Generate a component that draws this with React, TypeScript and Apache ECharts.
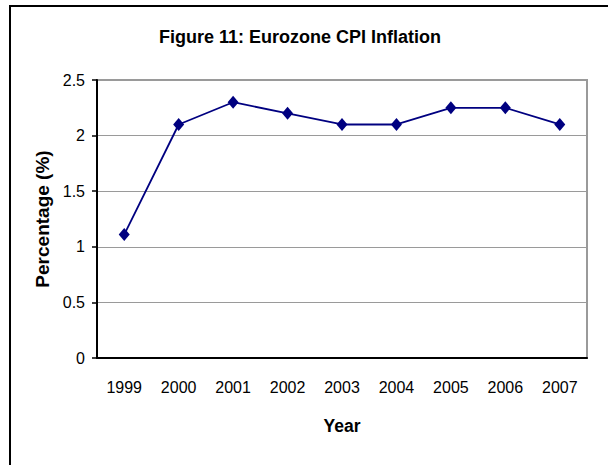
import React, { useEffect, useRef } from "react";
import * as echarts from "echarts";

const titleText = "Figure 11: Eurozone CPI Inflation";
const years = ["1999", "2000", "2001", "2002", "2003", "2004", "2005", "2006", "2007"];
const cpi = [1.11, 2.1, 2.3, 2.2, 2.1, 2.1, 2.25, 2.25, 2.1];
const yName = "Percentage (%)";
const xName = "Year";

const FONT = "'Liberation Sans', Arial, sans-serif";

export default function App() {
  const ref = useRef<HTMLDivElement>(null);
  useEffect(() => {
    if (!ref.current) return;
    const chart = echarts.init(ref.current, undefined, { renderer: "svg" });
    chart.setOption({
      animation: false,
      backgroundColor: "#ffffff",
      textStyle: { fontFamily: FONT },
      title: {
        text: titleText,
        left: 295,
        top: 23,
        textAlign: "center",
        textStyle: { fontFamily: FONT, fontSize: 18, fontWeight: "bold", color: "#000" },
      },
      graphic: [
        {
          type: "rect",
          shape: { x: 10, y: 6, width: 700, height: 600 },
          style: { fill: "none", stroke: "#000", lineWidth: 2 },
          z: 10,
        },
      ],
      grid: {
        left: 97,
        right: 21,
        top: 80,
        bottom: 107,
        show: true,
        borderColor: "#9a9a9a",
        borderWidth: 2,
        backgroundColor: "transparent",
      },
      xAxis: {
        type: "category",
        data: years,
        boundaryGap: true,
        name: xName,
        nameLocation: "middle",
        nameGap: 59,
        nameTextStyle: { fontFamily: FONT, fontSize: 17.5, fontWeight: "bold", color: "#000" },
        axisLine: { show: true, lineStyle: { color: "#000", width: 2 } },
        axisTick: { show: false },
        axisLabel: { fontFamily: FONT, fontSize: 16, color: "#000", margin: 21, interval: 0 },
        splitLine: { show: false },
        z: 5,
      },
      yAxis: {
        type: "value",
        min: 0,
        max: 2.5,
        interval: 0.5,
        name: yName,
        nameLocation: "middle",
        nameGap: 42,
        nameTextStyle: { fontFamily: FONT, fontSize: 19, fontWeight: "bold", color: "#000" },
        axisLine: { show: true, lineStyle: { color: "#000", width: 2 } },
        axisTick: { show: true, length: 5, lineStyle: { color: "#000", width: 1.5 } },
        axisLabel: { fontFamily: FONT, fontSize: 16, color: "#000", margin: 12 },
        splitLine: { show: true, lineStyle: { color: "#9a9a9a", width: 1 } },
        z: 5,
      },
      series: [
        {
          type: "line",
          data: cpi,
          symbol: "diamond",
          symbolSize: [11, 13],
          lineStyle: { color: "#000080", width: 1.8 },
          itemStyle: { color: "#000080" },
          z: 6,
        },
      ],
    });
    return () => chart.dispose();
  }, []);
  return (
    <div
      ref={ref}
      style={{ position: "fixed", left: 0, top: 0, width: 608, height: 465 }}
    />
  );
}
